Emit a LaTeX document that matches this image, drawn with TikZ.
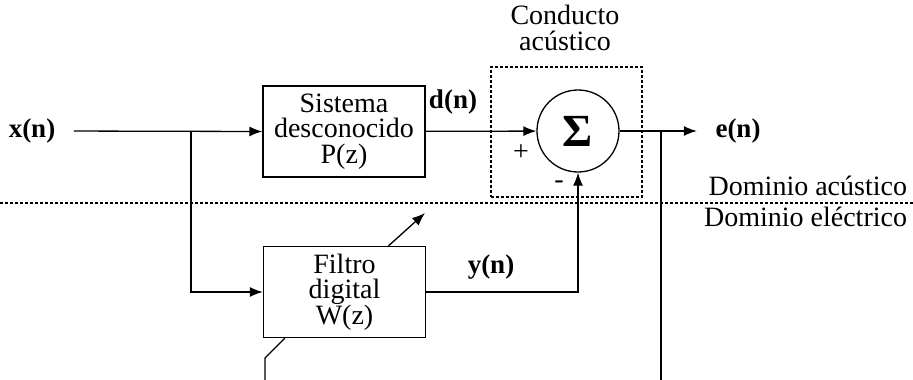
\documentclass[tikz,border=0pt]{standalone}
\usepackage{fontspec}
\setmainfont{Liberation Serif}
\usetikzlibrary{arrows.meta}

\tikzset{
  block/.style={
    rectangle,
    draw,
    minimum width=162pt,
    minimum height=91pt,
    inner sep=0pt,
    text centered,
    align=center
  },
  sumnode/.style={
    circle,
    draw,
    minimum size=82pt,
    inner sep=0pt
  },
  duct/.style={
    rectangle,
    draw,
    dash pattern=on 3pt off 2pt,
    minimum width=151pt,
    minimum height=130pt
  },
  signal/.style={inner sep=2pt, font=\bfseries\fontsize{27}{25.5}\selectfont},
}

\begin{document}
\begin{tikzpicture}[x=1pt, y=-1pt, line width=1.3pt, -{Latex[length=13pt,width=10pt]},
  font=\fontsize{28}{25.5}\selectfont]
  \useasboundingbox (0,0) rectangle (913,380);
  \node[signal, anchor=center] (x) at (32,131) {x(n)};
  \node[block, anchor=center] (p) at (344,131.5) {Sistema\\desconocido\\P(z)};
  \node[block, anchor=center] (w) at (344.5,292) {Filtro\\digital\\W(z)};
  \node[duct, anchor=center] (c) at (566.5,132) {};
  \node[sumnode, anchor=center] (s) at (578,131) {\bfseries\fontsize{46}{46}\selectfont Σ};
  \node[align=center, anchor=center] (ct) at (565,28) {Conducto\\[1pt]acústico};
  \node[signal, anchor=center] (d) at (453,102) {d(n)};
  \node[signal, anchor=center] (y) at (491,267) {y(n)};
  \node[signal, anchor=center] (e) at (738,131) {e(n)};
  \node[inner sep=0pt, anchor=center] (plus) at (521,153) {+};
  \node[inner sep=0pt, anchor=center] (minus) at (559,185) {-};
  \node[anchor=east] (da) at (911,186) {Dominio acústico};
  \node[anchor=east] (de) at (911,217) {Dominio eléctrico};
  \coordinate (b1) at (191,131);
  \coordinate (b2) at (661,131);
  \coordinate (eb) at (661,380);
  \coordinate (adapt) at (425,213);
  \coordinate (wk) at (265,358);
  \coordinate (wb) at (265,380);
  \coordinate (dl) at (0,203);
  \coordinate (dr) at (913,203);
  \draw[shorten <=16pt] (x.east) -- (p.west);
  \draw (b1) |- (w.west);
  \draw (p) -- (s);
  \draw[shorten >=16pt] (s) -- (e);
  \draw (w.east) -| (s.south);
  \draw[-] (b2) -- (eb);
  \draw ([xshift=44pt]w.north) -- (adapt);
  \draw[-] (wb) -- (wk) -- ([xshift=22pt]w.south west);
  \draw[-, dash pattern=on 3pt off 2pt] (dl) -- (dr);
\end{tikzpicture}
\end{document}
